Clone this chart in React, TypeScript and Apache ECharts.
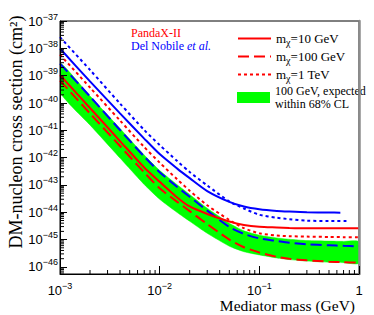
import React, { useEffect, useRef } from 'react';
import * as echarts from 'echarts';

// Mediator mass grid (GeV)
const MED_MASS = [0.001, 0.002, 0.004, 0.007, 0.01, 0.015, 0.02, 0.03, 0.05, 0.07, 0.1, 0.15, 0.2, 0.3, 0.5, 0.7, 1.0];

// PandaX-II limits (cm^2)
const PANDAX_10GEV = [1.06e-39, 6.6e-41, 4.06e-42, 4.37e-43, 1.31e-43, 3.5e-44, 1.63e-44, 8.7e-45, 4.6e-45, 3.44e-45, 2.95e-45, 2.78e-45, 2.67e-45, 2.6e-45, 2.6e-45, 2.58e-45, 2.58e-45];
const PANDAX_100GEV = [6.65e-40, 4.16e-41, 2.67e-42, 2.86e-43, 7.6e-44, 2.4e-44, 1.1e-44, 3.7e-45, 1.0e-45, 5.25e-46, 3.39e-46, 2.34e-46, 1.97e-46, 1.74e-46, 1.56e-46, 1.49e-46, 1.43e-46];
const PANDAX_1TEV = [5.9e-39, 3.7e-40, 2.29e-41, 2.45e-42, 6.6e-43, 1.6e-43, 6.2e-44, 1.8e-44, 5.25e-45, 2.63e-45, 1.7e-45, 1.41e-45, 1.33e-45, 1.29e-45, 1.25e-45, 1.23e-45, 1.22e-45];

// Expected band, 100 GeV, 68% CL
const BAND_UPPER = [2.9e-39, 1.8e-40, 1.17e-41, 1.25e-42, 3.4e-43, 1.02e-43, 4.5e-44, 1.41e-44, 4.0e-45, 2.1e-45, 1.45e-45, 1.15e-45, 1.03e-45, 9.2e-46, 8.8e-46, 8.6e-46, 8.4e-46];
const BAND_LOWER = [2.5e-40, 1.57e-41, 9.7e-43, 1.04e-43, 3.0e-44, 9.8e-45, 4.7e-45, 1.7e-45, 5.75e-46, 3.6e-46, 2.75e-46, 2.13e-46, 1.86e-46, 1.63e-46, 1.48e-46, 1.43e-46, 1.36e-46];

// Del Nobile et al.
const DN_10GEV_MASS = [0.001, 0.002, 0.004, 0.007, 0.01, 0.015, 0.02, 0.03, 0.05, 0.07, 0.1, 0.15, 0.2, 0.3, 0.5, 0.65];
const DN_10GEV = [9.9e-39, 6.2e-40, 4.2e-41, 5.0e-42, 1.35e-42, 3.98e-43, 1.78e-43, 6.0e-44, 2.4e-44, 1.62e-44, 1.29e-44, 1.12e-44, 1.06e-44, 1.0e-44, 9.8e-45, 9.7e-45];
const DN_100GEV = [2.79e-39, 1.74e-40, 1.03e-41, 1.1e-42, 2.95e-43, 8.5e-44, 3.7e-44, 1.15e-44, 2.9e-45, 1.62e-45, 1.11e-45, 8.9e-46, 7.7e-46, 6.75e-46, 6.2e-46, 5.9e-46, 5.7e-46];
const DN_1TEV_MASS = [0.001, 0.002, 0.004, 0.007, 0.01, 0.015, 0.02, 0.03, 0.05, 0.07, 0.1, 0.15, 0.2, 0.3, 0.5, 0.8];
const DN_1TEV = [2.6e-38, 1.63e-39, 9.6e-41, 1.03e-41, 2.9e-42, 7.5e-43, 2.98e-43, 9.6e-44, 2.5e-44, 1.38e-44, 8.1e-45, 6.3e-45, 5.6e-45, 4.93e-45, 4.8e-45, 4.8e-45];

// Axis ticks
const X_MIN = 1e-3;
const X_MAX = 1;
const Y_MIN = 5.5e-47;
const Y_MAX = 1.01e-37;
const X_DECADES = [1e-3, 1e-2, 1e-1, 1];
const Y_DECADES = [1e-46, 1e-45, 1e-44, 1e-43, 1e-42, 1e-41, 1e-40, 1e-39, 1e-38, 1e-37];
const MINOR_MULT = [2, 3, 4, 5, 6, 7, 8, 9];

const LEGEND_NAMES = ['mχ=10 GeV', 'mχ=100 GeV', 'mχ=1 TeV'];
const BAND_NAME = '100 GeV, expected\nwithin 68% CL';
const Y_TITLE = 'DM-nucleon cross section (cm²)';
const X_TITLE = 'Mediator mass (GeV)';

const RED = '#ff0000';
const BLUE = '#0000ff';
const GREEN = '#00ff00';
const SANS = 'Liberation Sans';
const SERIF = 'Liberation Serif';

function minorTicks(decades: number[], lo: number, hi: number): number[] {
  const out: number[] = [];
  const all = [decades[0] / 10, ...decades];
  for (const d of all) {
    for (const m of MINOR_MULT) {
      const v = m * d;
      if (v > lo && v < hi) out.push(v);
    }
  }
  return out;
}

const pairs = (xs: number[], ys: number[]) => xs.map((x, i) => [x, ys[i]]);

const tickLabel = (v: number) => {
  const l = Math.log10(v);
  const e = Math.round(l);
  if (Math.abs(l - e) > 0.001) return '';
  return e === 0 ? '{b|1}' : `{b|10}{s|−${-e}}`;
};

const labelRich = {
  b: { fontFamily: SANS, fontSize: 13, lineHeight: 18, verticalAlign: 'middle', color: '#000' },
  s: { fontFamily: SANS, fontSize: 9, lineHeight: 10, verticalAlign: 'top', color: '#000' },
};

export default function App() {
  const ref = useRef<HTMLDivElement>(null);
  useEffect(() => {
    if (!ref.current) return;
    const chart = echarts.init(ref.current, undefined, { renderer: 'svg' });
    const xMinor = minorTicks(X_DECADES, X_MIN, X_MAX);
    const yMinor = minorTicks(Y_DECADES, Y_MIN, Y_MAX);

    const lineSeries = (name: string, xs: number[], ys: number[], color: string, type: any, z = 4) => ({
      type: 'line',
      name,
      data: pairs(xs, ys),
      xAxisIndex: 0,
      yAxisIndex: 0,
      symbol: 'none',
      showSymbol: false,
      smooth: 0.25,
      clip: true,
      z,
      lineStyle: { color, width: 2, type, cap: 'butt' },
      itemStyle: { color },
    });

    const option: any = {
      animation: false,
      backgroundColor: '#fff',
      grid: {
        left: 60, right: 15, top: 21, bottom: 41, containLabel: false, outerBoundsMode: 'none',
        show: true, borderColor: '#000', borderWidth: 1, backgroundColor: 'transparent',
      },
      xAxis: [
        {
          type: 'log', logBase: 10, min: X_MIN, max: X_MAX, position: 'bottom', z: 10,
          axisLine: { show: true, lineStyle: { color: '#000', width: 1 } },
          axisTick: { show: true, inside: true, length: 8, lineStyle: { color: '#000' } },
          axisLabel: { show: true, margin: 7, formatter: tickLabel, rich: labelRich, showMinLabel: true, showMaxLabel: true },
          splitLine: { show: false },
        },
      ],
      yAxis: [
        {
          type: 'log', logBase: 10, min: Y_MIN, max: Y_MAX, position: 'left', z: 10,
          axisLine: { show: true, lineStyle: { color: '#000', width: 1 } },
          axisTick: { show: true, inside: true, length: 7, lineStyle: { color: '#000' } },
          axisLabel: { show: true, margin: 2, formatter: tickLabel, rich: labelRich, showMinLabel: false, showMaxLabel: false },
          splitLine: { show: false },
        },
        {
          type: 'log', logBase: 10, min: Y_MIN, max: Y_MAX, position: 'right', z: 10,
          axisLine: { show: true, lineStyle: { color: '#8c8c8c', width: 2.5 } },
          axisTick: { show: false },
          axisLabel: { show: false },
          splitLine: { show: false },
        },
      ],
      legend: [
        {
          data: LEGEND_NAMES,
          orient: 'vertical',
          left: 232,
          top: 24.5,
          itemWidth: 33,
          itemHeight: 12,
          itemGap: 0,
          selectedMode: false,
          itemStyle: { color: 'transparent', borderWidth: 0 },
          formatter: (n: string) => n.replace('χ', '{s|χ}'),
          textStyle: {
            fontFamily: SERIF, fontSize: 13, color: '#000', lineHeight: 18,
            rich: { s: { fontFamily: SERIF, fontSize: 10, lineHeight: 10, verticalAlign: 'bottom', color: '#000' } },
          },
        },
        {
          data: [BAND_NAME],
          orient: 'vertical',
          left: 232,
          top: 79.5,
          itemWidth: 33,
          itemHeight: 11,
          icon: 'rect',
          selectedMode: false,
          textStyle: { fontFamily: SERIF, fontSize: 12, color: '#000', lineHeight: 13 },
        },
      ],
      graphic: [
        {
          type: 'text', left: 131, top: 27, z: 20,
          style: { text: 'PandaX-II', fill: RED, fontFamily: SERIF, fontSize: 12 },
        },
        {
          type: 'text', left: 131, top: 40, z: 20,
          style: {
            text: '{n|Del Nobile }{i|et al.}',
            fill: BLUE,
            rich: {
              n: { fontFamily: SERIF, fontSize: 12, fill: BLUE },
              i: { fontFamily: SERIF, fontSize: 12, fontStyle: 'italic', fill: BLUE },
            },
          },
        },
        {
          type: 'text', right: 19, top: 297, z: 20,
          style: { text: X_TITLE, fill: '#000', fontFamily: SERIF, fontSize: 15.5 },
        },
        {
          type: 'text', x: 16, y: 132, rotation: Math.PI / 2, z: 20,
          style: {
            text: Y_TITLE,
            fill: '#000',
            align: 'center',
            verticalAlign: 'middle',
            fontFamily: SERIF,
            fontSize: 18,
          },
        },
      ],
      series: [
        {
          type: 'custom',
          name: BAND_NAME,
          xAxisIndex: 0,
          yAxisIndex: 0,
          z: 1,
          clip: true,
          itemStyle: { color: GREEN },
          encode: { x: 0, y: [1, 2] },
          data: MED_MASS.map((x, i) => [x, BAND_UPPER[i], BAND_LOWER[i]]),
          renderItem: (params: any, api: any) => {
            if (params.dataIndex !== 0) return null;
            const pts: number[][] = [];
            for (let i = 0; i < MED_MASS.length; i++) pts.push(api.coord([MED_MASS[i], BAND_UPPER[i]]));
            for (let i = MED_MASS.length - 1; i >= 0; i--) pts.push(api.coord([MED_MASS[i], BAND_LOWER[i]]));
            return { type: 'polygon', shape: { points: pts, smooth: 0.2 }, style: { fill: GREEN, stroke: GREEN, lineWidth: 0.5 } };
          },
        },
        {
          type: 'custom',
          name: 'x minor ticks',
          xAxisIndex: 0,
          yAxisIndex: 0,
          z: 20,
          clip: false,
          silent: true,
          encode: { x: 0, y: 1 },
          data: xMinor.map((v) => [v, Y_MIN]),
          renderItem: (params: any, api: any) => {
            const p = api.coord([api.value(0), api.value(1)]);
            return { type: 'line', shape: { x1: p[0], y1: p[1], x2: p[0], y2: p[1] - 4 }, style: { stroke: '#000', lineWidth: 1 } };
          },
        },
        {
          type: 'custom',
          name: 'y minor ticks',
          xAxisIndex: 0,
          yAxisIndex: 0,
          z: 20,
          clip: false,
          silent: true,
          encode: { x: 0, y: 1 },
          data: yMinor.map((v) => [X_MIN, v]),
          renderItem: (params: any, api: any) => {
            const p = api.coord([api.value(0), api.value(1)]);
            return { type: 'line', shape: { x1: p[0], y1: p[1], x2: p[0] + 4, y2: p[1] }, style: { stroke: '#000', lineWidth: 1 } };
          },
        },
        lineSeries('Del Nobile 1 TeV', DN_1TEV_MASS, DN_1TEV, BLUE, [3, 3]),
        lineSeries('Del Nobile 10 GeV', DN_10GEV_MASS, DN_10GEV, BLUE, 'solid'),
        lineSeries('Del Nobile 100 GeV', MED_MASS, DN_100GEV, BLUE, [11, 5]),
        lineSeries(LEGEND_NAMES[2], MED_MASS, PANDAX_1TEV, RED, [3, 3]),
        lineSeries(LEGEND_NAMES[0], MED_MASS, PANDAX_10GEV, RED, 'solid'),
        lineSeries(LEGEND_NAMES[1], MED_MASS, PANDAX_100GEV, RED, [11, 5]),
      ],
    };
    chart.setOption(option);
    return () => chart.dispose();
  }, []);
  return <div ref={ref} style={{ position: 'fixed', left: 0, top: 0, width: 374, height: 315 }} />;
}
